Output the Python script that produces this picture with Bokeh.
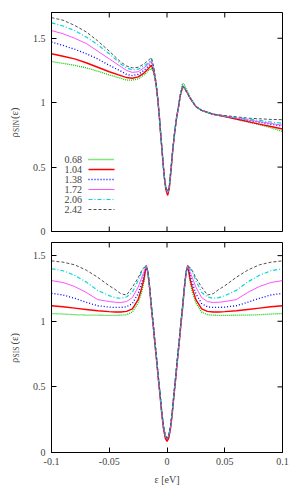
import math
from bokeh.plotting import figure
from bokeh.layouts import column, row
from bokeh.models import FixedTicker, PrintfTickFormatter, Label, Range1d
from bokeh.embed import file_html
from bokeh.resources import INLINE

FONT = "Liberation Serif"

# ---------------- data ----------------
x_ticks = [-0.1, -0.05, 0, 0.05, 0.1]
y_ticks = [0, 0.5, 1, 1.5]
series_labels = ["0.68", "1.04", "1.38", "1.72", "2.06", "2.42"]

# rho_SIN(eps)
sin_x = [-0.1, -0.09, -0.08, -0.07, -0.06, -0.05, -0.04, -0.035, -0.03, -0.025, -0.02, -0.016, -0.0135,
         -0.0115, -0.0095, -0.008, -0.0066, -0.0055, -0.0043, -0.0033, -0.0023, -0.001, 0.0006,
         0.002, 0.0035, 0.0049, 0.0065, 0.0084, 0.0100, 0.0115, 0.0135, 0.015, 0.017, 0.02,
         0.025, 0.03, 0.04, 0.05, 0.06, 0.07, 0.08, 0.09, 0.1]
sin_068 = [1.32, 1.305, 1.29, 1.27, 1.245, 1.215, 1.19, 1.175, 1.175, 1.185, 1.215, 1.25, 1.265,
           1.235, 1.14, 1.03, 0.89, 0.76, 0.63, 0.52, 0.42, 0.34, 0.295,
           0.35, 0.49, 0.63, 0.76, 0.89, 0.97, 1.065, 1.15, 1.14, 1.10, 1.045,
           0.97, 0.94, 0.91, 0.893, 0.871, 0.85, 0.83, 0.805, 0.777]
sin_104 = [1.38, 1.36, 1.34, 1.31, 1.275, 1.24, 1.21, 1.195, 1.19, 1.20, 1.23, 1.265, 1.29,
           1.245, 1.145, 1.03, 0.89, 0.76, 0.63, 0.52, 0.42, 0.325, 0.28,
           0.335, 0.475, 0.62, 0.76, 0.89, 0.97, 1.055, 1.12, 1.115, 1.085, 1.035,
           0.97, 0.94, 0.91, 0.893, 0.873, 0.853, 0.834, 0.815, 0.796]
sin_138 = [1.47, 1.445, 1.415, 1.38, 1.34, 1.29, 1.245, 1.22, 1.21, 1.22, 1.25, 1.285, 1.31,
           1.255, 1.15, 1.03, 0.89, 0.76, 0.63, 0.52, 0.42, 0.34, 0.30,
           0.35, 0.49, 0.63, 0.76, 0.89, 0.97, 1.06, 1.13, 1.12, 1.085, 1.035,
           0.97, 0.94, 0.91, 0.895, 0.878, 0.862, 0.848, 0.832, 0.817]
sin_172 = [1.56, 1.535, 1.50, 1.46, 1.40, 1.34, 1.28, 1.25, 1.235, 1.24, 1.27, 1.30, 1.325,
           1.26, 1.15, 1.03, 0.89, 0.76, 0.63, 0.52, 0.42, 0.34, 0.30,
           0.35, 0.49, 0.63, 0.76, 0.89, 0.97, 1.06, 1.13, 1.12, 1.085, 1.035,
           0.97, 0.94, 0.91, 0.895, 0.88, 0.866, 0.853, 0.839, 0.825]
sin_206 = [1.62, 1.595, 1.56, 1.51, 1.45, 1.38, 1.30, 1.27, 1.255, 1.26, 1.285, 1.31, 1.34,
           1.27, 1.155, 1.03, 0.89, 0.76, 0.63, 0.52, 0.42, 0.34, 0.305,
           0.35, 0.49, 0.63, 0.76, 0.89, 0.97, 1.06, 1.13, 1.12, 1.085, 1.035,
           0.97, 0.94, 0.91, 0.898, 0.885, 0.873, 0.862, 0.85, 0.84]
sin_242 = [1.66, 1.64, 1.60, 1.55, 1.48, 1.40, 1.315, 1.285, 1.27, 1.275, 1.30, 1.33, 1.35,
           1.28, 1.16, 1.03, 0.89, 0.76, 0.63, 0.52, 0.42, 0.34, 0.31,
           0.355, 0.49, 0.63, 0.76, 0.89, 0.97, 1.055, 1.125, 1.12, 1.085, 1.035,
           0.97, 0.94, 0.91, 0.90, 0.89, 0.88, 0.875, 0.87, 0.868]

# rho_SIS(eps)
sis_x = [-0.1, -0.09, -0.08, -0.07, -0.06, -0.05, -0.045, -0.04, -0.035, -0.03, -0.025, -0.022, -0.02,
         -0.018, -0.0165, -0.015, -0.0135, -0.012, -0.0105, -0.009, -0.0075, -0.006, -0.0045, -0.003,
         -0.0015, 0, 0.0015, 0.003, 0.0045, 0.006, 0.0075, 0.009, 0.0105, 0.012, 0.0135, 0.015,
         0.0165, 0.018, 0.02, 0.022, 0.025, 0.03, 0.035, 0.04, 0.045, 0.05, 0.06, 0.07, 0.08, 0.09, 0.1]
sis_068 = [1.059, 1.055, 1.05, 1.047, 1.046, 1.045, 1.045, 1.046, 1.05, 1.07, 1.14, 1.22, 1.30,
           1.42, 1.37, 1.25, 1.11, 0.98, 0.84, 0.71, 0.57, 0.44, 0.30, 0.19, 0.125, 0.10,
           0.125, 0.19, 0.30, 0.44, 0.57, 0.71, 0.84, 0.98, 1.11, 1.25, 1.37, 1.42,
           1.30, 1.22, 1.14, 1.07, 1.05, 1.046, 1.045, 1.045, 1.046, 1.047, 1.05, 1.055, 1.059]
sis_104 = [1.118, 1.11, 1.10, 1.09, 1.08, 1.073, 1.07, 1.07, 1.075, 1.095, 1.165, 1.25, 1.32,
           1.425, 1.37, 1.25, 1.10, 0.97, 0.83, 0.70, 0.56, 0.43, 0.29, 0.18, 0.11, 0.085,
           0.11, 0.18, 0.29, 0.43, 0.56, 0.70, 0.83, 0.97, 1.10, 1.25, 1.37, 1.425,
           1.32, 1.25, 1.165, 1.095, 1.075, 1.07, 1.07, 1.073, 1.08, 1.09, 1.10, 1.11, 1.118]
sis_138 = [1.213, 1.20, 1.175, 1.145, 1.118, 1.108, 1.105, 1.105, 1.11, 1.135, 1.21, 1.29, 1.35,
           1.42, 1.37, 1.25, 1.11, 0.98, 0.84, 0.71, 0.57, 0.44, 0.30, 0.19, 0.125, 0.10,
           0.125, 0.19, 0.30, 0.44, 0.57, 0.71, 0.84, 0.98, 1.11, 1.25, 1.37, 1.42,
           1.35, 1.29, 1.21, 1.135, 1.11, 1.105, 1.105, 1.108, 1.118, 1.145, 1.175, 1.20, 1.213]
sis_172 = [1.31, 1.295, 1.265, 1.22, 1.165, 1.15, 1.145, 1.143, 1.15, 1.18, 1.26, 1.33, 1.375,
           1.42, 1.375, 1.255, 1.115, 0.985, 0.845, 0.715, 0.575, 0.445, 0.305, 0.195, 0.13, 0.105,
           0.13, 0.195, 0.305, 0.445, 0.575, 0.715, 0.845, 0.985, 1.115, 1.255, 1.375, 1.42,
           1.375, 1.33, 1.26, 1.18, 1.15, 1.143, 1.145, 1.15, 1.165, 1.22, 1.265, 1.295, 1.31]
sis_206 = [1.40, 1.385, 1.35, 1.30, 1.235, 1.195, 1.18, 1.175, 1.185, 1.22, 1.31, 1.375, 1.40,
           1.415, 1.375, 1.26, 1.12, 0.99, 0.85, 0.72, 0.58, 0.45, 0.31, 0.20, 0.13, 0.105,
           0.13, 0.20, 0.31, 0.45, 0.58, 0.72, 0.85, 0.99, 1.12, 1.26, 1.375, 1.415,
           1.40, 1.375, 1.31, 1.22, 1.185, 1.175, 1.18, 1.195, 1.235, 1.30, 1.35, 1.385, 1.40]
sis_242 = [1.46, 1.45, 1.43, 1.39, 1.335, 1.27, 1.243, 1.21, 1.20, 1.26, 1.33, 1.385, 1.41,
           1.415, 1.38, 1.265, 1.125, 0.995, 0.855, 0.725, 0.585, 0.455, 0.315, 0.205, 0.135, 0.11,
           0.135, 0.205, 0.315, 0.455, 0.585, 0.725, 0.855, 0.995, 1.125, 1.265, 1.38, 1.415,
           1.41, 1.385, 1.33, 1.26, 1.20, 1.21, 1.243, 1.27, 1.335, 1.39, 1.43, 1.45, 1.46]

sin_series = [sin_068, sin_104, sin_138, sin_172, sin_206, sin_242]
sis_series = [sis_068, sis_104, sis_138, sis_172, sis_206, sis_242]

# ---------------- styles ----------------
colors = ["#00cc00", "#ff0000", "#0000ff", "#ff50ff", "#00d8d8", "#505050"]
dashes = ["1 1", "solid", "1 2", "solid", "4 2 1 2", "3 2"]
widths = [1.3, 1.4, 1.3, 1.0, 1.2, 1.0]

FRAME_W = 231
LAB_W = 20          # strip holding the rotated y label
ML, MR = 31, 16     # LAB_W + ML = 51 px to the frame
TICK = 5


def style_axis(ax, ticks):
    ax.ticker = FixedTicker(ticks=list(ticks))
    ax.formatter = PrintfTickFormatter(format="%g")
    ax.major_tick_in = TICK
    ax.major_tick_out = 0
    ax.minor_tick_line_color = None
    ax.axis_line_color = "black"
    ax.major_tick_line_color = "black"
    ax.major_label_text_font = FONT
    ax.major_label_text_font_size = "10px"
    ax.major_label_standoff = 6


def make_label_strip(frame_h, ymax, top_b, bot_b, sub):
    s = figure(frame_width=LAB_W, frame_height=frame_h, x_range=Range1d(0, LAB_W),
               y_range=Range1d(0, ymax), output_backend="svg", toolbar_location=None,
               min_border_left=0, min_border_right=0, min_border_top=top_b, min_border_bottom=bot_b)
    s.axis.visible = False
    s.grid.visible = False
    s.outline_line_color = None
    s.background_fill_color = "white"
    s.border_fill_color = "white"
    ppu_y = frame_h / ymax
    L = 31.0
    y0 = ymax / 2 - (L / 2) / ppu_y
    xb = 13.5   # baseline position in the strip (px)
    s.add_layout(Label(x=xb, y=y0, text="ρ", angle=math.pi / 2,
                       text_font=FONT, text_font_size="10.5px", text_align="left",
                       text_baseline="alphabetic"))
    s.add_layout(Label(x=xb + 2.5, y=y0 + 5.5 / ppu_y, text=sub, angle=math.pi / 2,
                       text_font=FONT, text_font_size="7.5px", text_align="left",
                       text_baseline="alphabetic"))
    s.add_layout(Label(x=xb, y=y0 + 18.5 / ppu_y, text="(ε)", angle=math.pi / 2,
                       text_font=FONT, text_font_size="10.5px", text_align="left",
                       text_baseline="alphabetic"))
    return s


def make_fig(frame_h, ymax, top_b, bot_b, show_x, xs, ys_list, legend):
    p = figure(frame_width=FRAME_W, frame_height=frame_h,
               x_range=Range1d(-0.1, 0.1), y_range=Range1d(0, ymax),
               output_backend="svg", toolbar_location=None,
               min_border_left=ML, min_border_right=MR, min_border_top=top_b, min_border_bottom=bot_b)
    p.xgrid.visible = False
    p.ygrid.visible = False
    p.outline_line_color = "black"
    p.outline_line_width = 1
    p.background_fill_color = "white"
    p.border_fill_color = "white"
    style_axis(p.yaxis[0], y_ticks)
    if show_x:
        ax = p.xaxis[0]
        style_axis(ax, x_ticks)
        ax.major_label_standoff = 5
        ax.axis_label = "ε [eV]"
        ax.axis_label_text_font = FONT
        ax.axis_label_text_font_size = "10px"
        ax.axis_label_text_font_style = "normal"
        ax.axis_label_standoff = 6
    else:
        p.xaxis.visible = False
        p.ray(x=x_ticks, y=[0] * len(x_ticks), length=TICK, length_units="screen",
              angle=math.pi / 2, line_color="black", line_width=1)
    p.ray(x=x_ticks, y=[ymax] * len(x_ticks), length=TICK, length_units="screen",
          angle=-math.pi / 2, line_color="black", line_width=1)
    p.ray(x=[0.1] * len(y_ticks), y=y_ticks, length=TICK, length_units="screen",
          angle=math.pi, line_color="black", line_width=1)

    for ys, c, d, w in zip(ys_list, colors, dashes, widths):
        p.line(xs, ys, line_color=c, line_dash=d, line_width=w)

    if legend:
        ppu_y = frame_h / ymax
        ppu_x = FRAME_W / 0.2
        row0_px = 72.0
        step_px = 10.0
        text_right_px = 30.5
        key0_px, key1_px = 37.0, 63.0
        for i, (lab, c, d, w) in enumerate(zip(series_labels, colors, dashes, widths)):
            yy = (row0_px - i * step_px) / ppu_y
            p.add_layout(Label(x=-0.1 + text_right_px / ppu_x, y=yy, text=lab,
                               text_font=FONT, text_font_size="10px",
                               text_align="right", text_baseline="middle"))
            p.line([-0.1 + key0_px / ppu_x, -0.1 + key1_px / ppu_x], [yy, yy],
                   line_color=c, line_dash=d, line_width=w)
    return p


p1 = make_fig(219, 1.7, 12, 6, False, sin_x, sin_series, True)
s1 = make_label_strip(219, 1.7, 12, 6, "SIN")
p2 = make_fig(210, 1.6, 5, 40, True, sis_x, sis_series, False)
s2 = make_label_strip(210, 1.6, 5, 40, "SIS")

layout = column(row(s1, p1, spacing=0), row(s2, p2, spacing=0), spacing=0)
html = file_html(layout, INLINE, title="rho")
open("out.html", "w").write(html)
